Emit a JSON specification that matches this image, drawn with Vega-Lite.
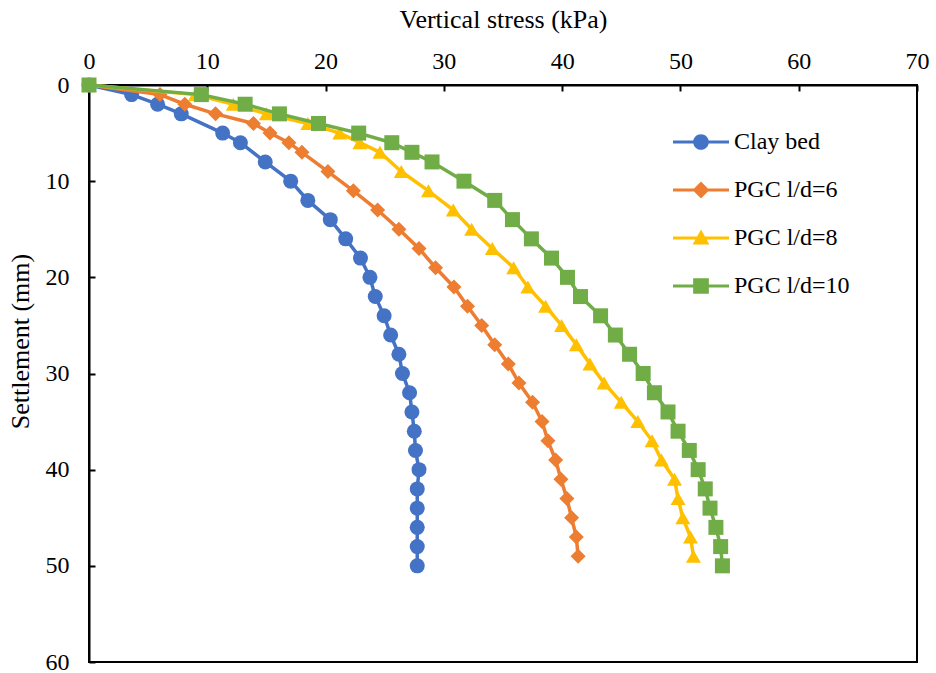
{
  "$schema": "https://vega.github.io/schema/vega-lite/v6.json",
  "width": 828,
  "height": 577,
  "autosize": "none",
  "padding": {"left": 89, "top": 85, "right": 19, "bottom": 11},
  "background": "white",
  "config": {"font": "Liberation Serif", "view": {"stroke": "black", "strokeWidth": 2}},
  "data": {"values": [
    {"series": "Clay bed", "settlement": 0, "stress": 0},
    {"series": "Clay bed", "settlement": 1, "stress": 3.6},
    {"series": "Clay bed", "settlement": 2, "stress": 5.8},
    {"series": "Clay bed", "settlement": 3, "stress": 7.8},
    {"series": "Clay bed", "settlement": 5, "stress": 11.3},
    {"series": "Clay bed", "settlement": 6, "stress": 12.8},
    {"series": "Clay bed", "settlement": 8, "stress": 14.9},
    {"series": "Clay bed", "settlement": 10, "stress": 17.05},
    {"series": "Clay bed", "settlement": 12, "stress": 18.5},
    {"series": "Clay bed", "settlement": 14, "stress": 20.4},
    {"series": "Clay bed", "settlement": 16, "stress": 21.7},
    {"series": "Clay bed", "settlement": 18, "stress": 22.95},
    {"series": "Clay bed", "settlement": 20, "stress": 23.75},
    {"series": "Clay bed", "settlement": 22, "stress": 24.2},
    {"series": "Clay bed", "settlement": 24, "stress": 24.95},
    {"series": "Clay bed", "settlement": 26, "stress": 25.5},
    {"series": "Clay bed", "settlement": 28, "stress": 26.2},
    {"series": "Clay bed", "settlement": 30, "stress": 26.5},
    {"series": "Clay bed", "settlement": 32, "stress": 27.1},
    {"series": "Clay bed", "settlement": 34, "stress": 27.3},
    {"series": "Clay bed", "settlement": 36, "stress": 27.5},
    {"series": "Clay bed", "settlement": 38, "stress": 27.6},
    {"series": "Clay bed", "settlement": 40, "stress": 27.9},
    {"series": "Clay bed", "settlement": 42, "stress": 27.75},
    {"series": "Clay bed", "settlement": 44, "stress": 27.75},
    {"series": "Clay bed", "settlement": 46, "stress": 27.75},
    {"series": "Clay bed", "settlement": 48, "stress": 27.75},
    {"series": "Clay bed", "settlement": 50, "stress": 27.75},
    {"series": "PGC l/d=6", "settlement": 0, "stress": 0},
    {"series": "PGC l/d=6", "settlement": 1, "stress": 6.0},
    {"series": "PGC l/d=6", "settlement": 2, "stress": 8.1},
    {"series": "PGC l/d=6", "settlement": 3, "stress": 10.7},
    {"series": "PGC l/d=6", "settlement": 4, "stress": 13.9},
    {"series": "PGC l/d=6", "settlement": 5, "stress": 15.3},
    {"series": "PGC l/d=6", "settlement": 6, "stress": 16.9},
    {"series": "PGC l/d=6", "settlement": 7, "stress": 18.0},
    {"series": "PGC l/d=6", "settlement": 9, "stress": 20.2},
    {"series": "PGC l/d=6", "settlement": 11, "stress": 22.35},
    {"series": "PGC l/d=6", "settlement": 13, "stress": 24.4},
    {"series": "PGC l/d=6", "settlement": 15, "stress": 26.2},
    {"series": "PGC l/d=6", "settlement": 17, "stress": 27.9},
    {"series": "PGC l/d=6", "settlement": 19, "stress": 29.3},
    {"series": "PGC l/d=6", "settlement": 21, "stress": 30.85},
    {"series": "PGC l/d=6", "settlement": 23, "stress": 32.0},
    {"series": "PGC l/d=6", "settlement": 25, "stress": 33.2},
    {"series": "PGC l/d=6", "settlement": 27, "stress": 34.3},
    {"series": "PGC l/d=6", "settlement": 29, "stress": 35.45},
    {"series": "PGC l/d=6", "settlement": 31, "stress": 36.35},
    {"series": "PGC l/d=6", "settlement": 33, "stress": 37.5},
    {"series": "PGC l/d=6", "settlement": 35, "stress": 38.3},
    {"series": "PGC l/d=6", "settlement": 37, "stress": 38.8},
    {"series": "PGC l/d=6", "settlement": 39, "stress": 39.45},
    {"series": "PGC l/d=6", "settlement": 41, "stress": 39.9},
    {"series": "PGC l/d=6", "settlement": 43, "stress": 40.4},
    {"series": "PGC l/d=6", "settlement": 45, "stress": 40.8},
    {"series": "PGC l/d=6", "settlement": 47, "stress": 41.2},
    {"series": "PGC l/d=6", "settlement": 49, "stress": 41.35},
    {"series": "PGC l/d=8", "settlement": 0, "stress": 0},
    {"series": "PGC l/d=8", "settlement": 1, "stress": 9.0},
    {"series": "PGC l/d=8", "settlement": 2, "stress": 12.2},
    {"series": "PGC l/d=8", "settlement": 3, "stress": 15.0},
    {"series": "PGC l/d=8", "settlement": 4, "stress": 18.5},
    {"series": "PGC l/d=8", "settlement": 5, "stress": 21.2},
    {"series": "PGC l/d=8", "settlement": 6, "stress": 22.9},
    {"series": "PGC l/d=8", "settlement": 7, "stress": 24.6},
    {"series": "PGC l/d=8", "settlement": 9, "stress": 26.4},
    {"series": "PGC l/d=8", "settlement": 11, "stress": 28.7},
    {"series": "PGC l/d=8", "settlement": 13, "stress": 30.8},
    {"series": "PGC l/d=8", "settlement": 15, "stress": 32.35},
    {"series": "PGC l/d=8", "settlement": 17, "stress": 34.1},
    {"series": "PGC l/d=8", "settlement": 19, "stress": 35.9},
    {"series": "PGC l/d=8", "settlement": 21, "stress": 37.1},
    {"series": "PGC l/d=8", "settlement": 23, "stress": 38.6},
    {"series": "PGC l/d=8", "settlement": 25, "stress": 39.95},
    {"series": "PGC l/d=8", "settlement": 27, "stress": 41.2},
    {"series": "PGC l/d=8", "settlement": 29, "stress": 42.35},
    {"series": "PGC l/d=8", "settlement": 31, "stress": 43.55},
    {"series": "PGC l/d=8", "settlement": 33, "stress": 45.0},
    {"series": "PGC l/d=8", "settlement": 35, "stress": 46.4},
    {"series": "PGC l/d=8", "settlement": 37, "stress": 47.6},
    {"series": "PGC l/d=8", "settlement": 39, "stress": 48.4},
    {"series": "PGC l/d=8", "settlement": 41, "stress": 49.5},
    {"series": "PGC l/d=8", "settlement": 43, "stress": 49.8},
    {"series": "PGC l/d=8", "settlement": 45, "stress": 50.2},
    {"series": "PGC l/d=8", "settlement": 47, "stress": 50.85},
    {"series": "PGC l/d=8", "settlement": 49, "stress": 51.1},
    {"series": "PGC l/d=10", "settlement": 0, "stress": 0},
    {"series": "PGC l/d=10", "settlement": 1, "stress": 9.5},
    {"series": "PGC l/d=10", "settlement": 2, "stress": 13.2},
    {"series": "PGC l/d=10", "settlement": 3, "stress": 16.1},
    {"series": "PGC l/d=10", "settlement": 4, "stress": 19.4},
    {"series": "PGC l/d=10", "settlement": 5, "stress": 22.8},
    {"series": "PGC l/d=10", "settlement": 6, "stress": 25.6},
    {"series": "PGC l/d=10", "settlement": 7, "stress": 27.3},
    {"series": "PGC l/d=10", "settlement": 8, "stress": 29.0},
    {"series": "PGC l/d=10", "settlement": 10, "stress": 31.7},
    {"series": "PGC l/d=10", "settlement": 12, "stress": 34.3},
    {"series": "PGC l/d=10", "settlement": 14, "stress": 35.8},
    {"series": "PGC l/d=10", "settlement": 16, "stress": 37.4},
    {"series": "PGC l/d=10", "settlement": 18, "stress": 39.1},
    {"series": "PGC l/d=10", "settlement": 20, "stress": 40.45},
    {"series": "PGC l/d=10", "settlement": 22, "stress": 41.55},
    {"series": "PGC l/d=10", "settlement": 24, "stress": 43.25},
    {"series": "PGC l/d=10", "settlement": 26, "stress": 44.5},
    {"series": "PGC l/d=10", "settlement": 28, "stress": 45.7},
    {"series": "PGC l/d=10", "settlement": 30, "stress": 46.85},
    {"series": "PGC l/d=10", "settlement": 32, "stress": 47.8},
    {"series": "PGC l/d=10", "settlement": 34, "stress": 48.95},
    {"series": "PGC l/d=10", "settlement": 36, "stress": 49.8},
    {"series": "PGC l/d=10", "settlement": 38, "stress": 50.75},
    {"series": "PGC l/d=10", "settlement": 40, "stress": 51.5},
    {"series": "PGC l/d=10", "settlement": 42, "stress": 52.1},
    {"series": "PGC l/d=10", "settlement": 44, "stress": 52.5},
    {"series": "PGC l/d=10", "settlement": 46, "stress": 53.0},
    {"series": "PGC l/d=10", "settlement": 48, "stress": 53.4},
    {"series": "PGC l/d=10", "settlement": 50, "stress": 53.55}
  ]},
  "encoding": {
    "x": {
      "field": "stress", "type": "quantitative",
      "scale": {"domain": [0, 70], "nice": false, "zero": false},
      "axis": {
        "orient": "top", "title": "Vertical stress (kPa)",
        "values": [0, 10, 20, 30, 40, 50, 60, 70],
        "grid": false, "domainColor": "black", "domainWidth": 2,
        "tickColor": "black", "tickWidth": 2, "tickSize": -6,
        "labelFontSize": 24, "labelColor": "black", "labelPadding": 18, "labelFlush": false,
        "titleFontSize": 26, "titleFontWeight": "normal", "titleColor": "black",
        "titleY": -58, "titleBaseline": "alphabetic"
      }
    },
    "y": {
      "field": "settlement", "type": "quantitative",
      "scale": {"domain": [0, 60], "reverse": true, "nice": false, "zero": false},
      "axis": {
        "orient": "left", "title": "Settlement (mm)",
        "values": [0, 10, 20, 30, 40, 50, 60],
        "grid": false, "domainColor": "black", "domainWidth": 2,
        "tickColor": "black", "tickWidth": 2, "tickSize": -6,
        "labelFontSize": 24, "labelColor": "black", "labelPadding": 26, "labelFlush": false,
        "titleFontSize": 26, "titleFontWeight": "normal", "titleColor": "black",
        "titleX": -69, "titleY": 256, "titleBaseline": "middle", "titleAngle": -90
      }
    },
    "color": {
      "field": "series", "type": "nominal",
      "scale": {"domain": ["Clay bed", "PGC l/d=6", "PGC l/d=8", "PGC l/d=10"], "range": ["#4472C4", "#ED7D31", "#FFC000", "#70AD47"]},
      "legend": {
        "orient": "none", "legendX": 584, "legendY": 29, "title": null, "padding": 0,
        "labelFontSize": 24, "labelColor": "black", "labelLimit": 300,
        "symbolSize": 3136, "labelOffset": 5, "rowPadding": 8,
        "encode": {"symbols": {"update": {
          "shape": {"signal": "datum.value === 'Clay bed' ? 'M-1,-0.054H1V0.054H-1Z M0,-0.28A0.28,0.28 0 1 1 0,0.28A0.28,0.28 0 1 1 0,-0.28Z' : datum.value === 'PGC l/d=6' ? 'M-1,-0.054H1V0.054H-1Z M0,-0.3L0.3,0L0,0.3L-0.3,0Z' : datum.value === 'PGC l/d=8' ? 'M-1,-0.054H1V0.054H-1Z M0,-0.3L0.3,0.23L-0.3,0.23Z' : 'M-1,-0.054H1V0.054H-1Z M-0.28,-0.28H0.28V0.28H-0.28Z'"},
          "fill": {"scale": "color", "field": "value"},
          "stroke": {"value": "transparent"},
          "strokeWidth": {"value": 0},
          "opacity": {"value": 1}
        }}}
      }
    },
    "order": {"field": "settlement", "type": "quantitative"}
  },
  "layer": [
    {"transform": [{"filter": "datum.series === 'Clay bed'"}], "mark": {"type": "line", "strokeWidth": 3.5, "point": {"filled": true, "size": 225, "opacity": 1, "shape": "circle"}}},
    {"transform": [{"filter": "datum.series === 'PGC l/d=6'"}], "mark": {"type": "line", "strokeWidth": 3.5, "point": {"filled": true, "size": 225, "opacity": 1, "shape": "diamond"}}},
    {"transform": [{"filter": "datum.series === 'PGC l/d=8'"}], "mark": {"type": "line", "strokeWidth": 3.5, "point": {"filled": true, "size": 225, "opacity": 1, "shape": "triangle-up"}}},
    {"transform": [{"filter": "datum.series === 'PGC l/d=10'"}], "mark": {"type": "line", "strokeWidth": 3.5, "point": {"filled": true, "size": 225, "opacity": 1, "shape": "square"}}}
  ]
}
